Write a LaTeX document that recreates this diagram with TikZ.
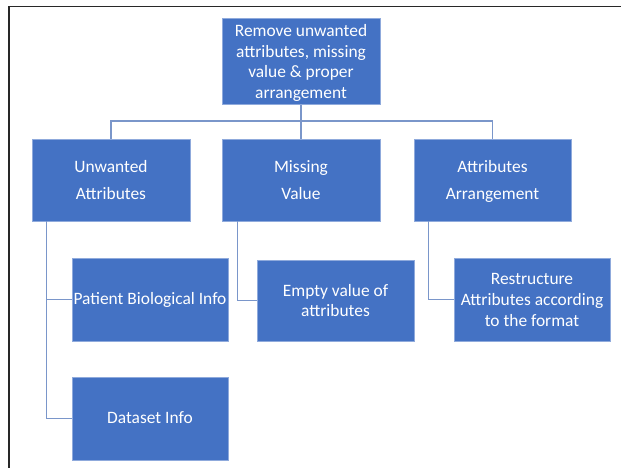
\documentclass[tikz,border=0pt]{standalone}
\usepackage{fontspec}
\setmainfont{Carlito}
\usetikzlibrary{calc}
\definecolor{boxblue}{HTML}{4472C4}
\definecolor{boxedge}{HTML}{8FAADC}
\definecolor{connblue}{RGB}{122,150,202}
\definecolor{framegray}{RGB}{40,40,40}
\newcommand{\firstl}{\rule{0pt}{18.3pt}}
\newcommand{\onel}{\rule{0pt}{16.2pt}}
\tikzset{
  box/.style={rectangle, fill=boxblue, draw=boxedge, line width=0.8pt, text=white,
    inner sep=0pt, align=center, font=\fontsize{17.4}{20.6}\selectfont},
  conn/.style={draw=connblue, line width=1.3pt},
  frameline/.style={draw=framegray, line width=1.5pt}
}
\begin{document}
\begin{tikzpicture}[x=1pt,y=-1pt]
\useasboundingbox (0,0) rectangle (621,468);
\fill[white] (0,0) rectangle (621,468);
\draw[frameline] (9,468) -- (9,6.5) -- (621,6.5);

\node[box, minimum width=158pt, minimum height=82pt] (top) at (301,61.5)
  {\firstl Remove unwanted\\\strut attributes, missing\\\strut value \& proper\\\strut arrangement};

\node[box, minimum width=158pt, minimum height=82pt] (un) at (111,180)
  {\firstl Unwanted\\[6.5pt]\strut Attributes};
\node[box, minimum width=158pt, minimum height=82pt] (mv) at (301,180)
  {\firstl Missing\\[6.5pt]\strut Value};
\node[box, minimum width=157pt, minimum height=82pt] (aa) at (492.5,180)
  {\firstl Attributes\\[6.5pt]\strut Arrangement};

\node[box, minimum width=156pt, minimum height=83pt] (pat) at (150,299.5)
  {\onel\strut Patient Biological Info};
\node[box, minimum width=156pt, minimum height=83pt] (ds) at (150,418.5)
  {\onel\strut Dataset Info};
\node[box, minimum width=157pt, minimum height=81pt] (ev) at (335.5,300.5)
  {\firstl Empty value of\\\strut attributes};
\node[box, minimum width=156pt, minimum height=83pt] (rs) at (532,299.5)
  {\firstl Restructure\\\strut Attributes according\\\strut to the format};

\coordinate (bar) at (301,121);
\draw[conn] (top.south) -- (bar);
\draw[conn] (un.north) |- (bar);
\draw[conn] (mv.north) -- (bar);
\draw[conn] (aa.north) |- (bar);

\coordinate (ut) at ($(un.south west)+(15,0)$);
\coordinate (mt) at ($(mv.south west)+(16,0)$);
\coordinate (at) at ($(aa.south west)+(15,0)$);
\draw[conn] (ut) |- (pat.west);
\draw[conn] (ut) |- (ds.west);
\draw[conn] (mt) |- (ev.west);
\draw[conn] (at) |- (rs.west);
\end{tikzpicture}
\end{document}
